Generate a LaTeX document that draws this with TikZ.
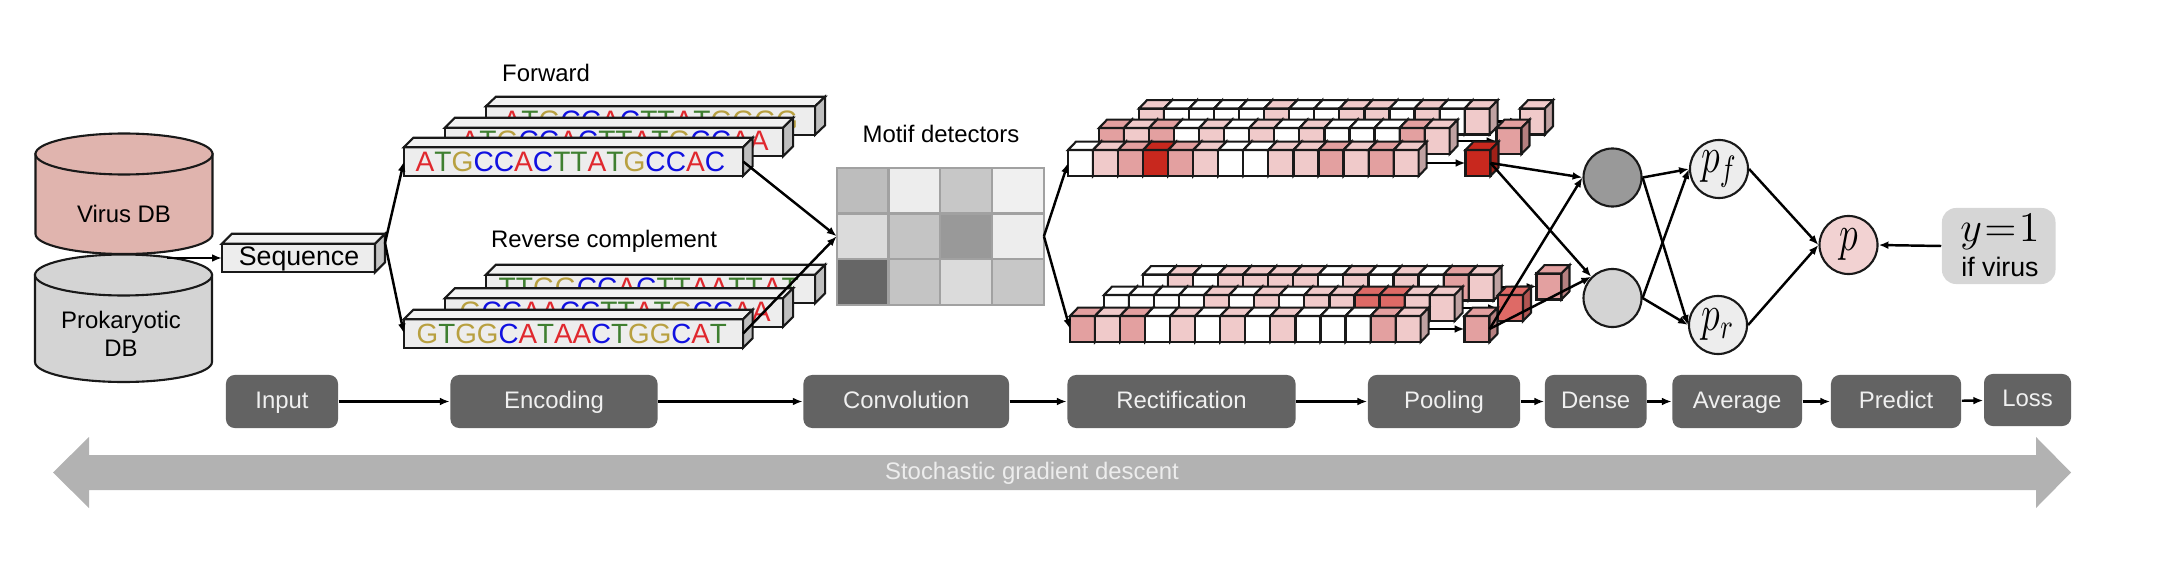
\documentclass[tikz,border=0pt]{standalone}
\usepackage[no-math]{fontspec}
\setmainfont{Liberation Sans}
\usetikzlibrary{calc, arrows.meta}
\definecolor{lev0}{HTML}{FFFFFF}
\definecolor{lev1}{HTML}{F0CACA}
\definecolor{lev2}{HTML}{E3A0A0}
\definecolor{lev3}{HTML}{DE6A66}
\definecolor{lev4}{HTML}{C8281E}
\definecolor{dbred}{HTML}{E0B4AE}
\definecolor{nucred}{HTML}{E0282E}
\definecolor{nucgreen}{HTML}{3F7F30}
\definecolor{nucgold}{HTML}{B8A040}
\definecolor{nucblue}{HTML}{1010E0}
\newcommand{\nA}{\textcolor{nucred}{A}}
\newcommand{\nT}{\textcolor{nucgreen}{T}}
\newcommand{\nG}{\textcolor{nucgold}{G}}
\newcommand{\nC}{\textcolor{nucblue}{C}}
\newcommand{\unitlabel}[1]{\scalebox{.75}[1]{$#1$}}
\tikzset{
  >={Latex[length=2.8pt,width=2.2pt]},
  boxline/.style={draw=black!90,line width=.6pt},
  conn/.style={->,black,line width=.7pt},
  seqrow/.style={boxline,fill=black!7,minimum width=3.39cm,minimum height=.285cm,inner sep=0pt,outer sep=0pt},
  nuctext/.style={anchor=base west,inner sep=0pt,font=\fontsize{8}{9}\selectfont},
  cube/.style={boxline,minimum width=.25cm,minimum height=.26cm,inner sep=0pt,outer sep=0pt},
  caption/.style={inner sep=0pt,font=\fontsize{6.8}{7.8}\selectfont,align=center},
  stage/.style={fill=black!61,text=black!6,rounded corners=2.5pt,minimum height=.53cm,inner sep=0pt,text height=1.8mm,text depth=.5mm,font=\fontsize{6.8}{7.8}\selectfont},
  motif/.style={draw=black!37,line width=.6pt,minimum width=.518cm,minimum height=.455cm,inner sep=0pt,outer sep=0pt},
  unit/.style={boxline,circle,minimum size=.58cm,inner sep=0pt,font=\Large},
}
% front faces are nodes, top and side faces hang on their corners
\newcommand{\boxfaces}[5]{
  \draw[boxline,fill=#4] (#1.north west) -- ++(#2,-#3) -- ($(#1.north east)+(#2,-#3)$) -- (#1.north east) -- cycle;
  \draw[boxline,fill=#5] (#1.north east) -- ++(#2,-#3) -- ($(#1.south east)+(#2,-#3)$) -- (#1.south east) -- cycle;
}
\newcommand{\cubestrip}[3]{
  \foreach \lev [count=\i from 0] in {#3} {
    \node[cube,fill=lev\lev] (#1\i) at ($(#2)+(\i*25.05,0)$) {};
    \boxfaces{#1\i}{8}{8.3}{lev\lev}{lev\lev!80!black}
  }
}
\newcommand{\dbstack}[5]{
  \draw[boxline,fill=#5] (#1,#2) -- (#1,#3) arc[start angle=180,end angle=0,x radius=#4,y radius=20] -- ++(0,#2-#3) -- cycle;
  \draw[boxline,fill=#5] ($(#1,#2)+(#4,0)$) ellipse [x radius=#4,y radius=20.5];
}
\begin{document}
\begin{tikzpicture}[x=0.01cm,y=-0.01cm]
    \useasboundingbox (0,0) rectangle (2158,564);
    % databases
    \dbstack{35.5}{154}{234}{88.5}{dbred}
    \node[caption] (virus) at (124,214) {Virus DB};
    \dbstack{35}{275}{362}{88.5}{black!17}
    \node[caption] (prok) at (121,334) {Prokaryotic\\DB};
    \coordinate (dbout) at (167,258);
    \node[seqrow,minimum width=1.53cm] (seq) at (298.5,258) {};
    \boxfaces{seq}{10}{10}{black!5}{black!23}
    \node[inner sep=0pt,font=\fontsize{7.6}{9}\selectfont] (seqtext) at (299,259) {Sequence};
    \coordinate (seqout) at (385,243);
    \draw[conn] (dbout) -- (seq.west);
    % forward strand
    \node[caption] (forward) at (546,73) {Forward};
    \node[seqrow,minimum width=3.29cm] (fwd1) at (650.5,120.5) {};
    \boxfaces{fwd1}{10}{9.5}{black!5}{black!25}
    \node[nuctext] (fwdtext1) at (502,130) {\nA\nT\nG\nC\nC\nA\nC\nT\nT\nA\nT\nG\nG\nG\nG};
    \node[seqrow,minimum width=3.38cm] (fwd2) at (614,142) {};
    \boxfaces{fwd2}{10}{10}{black!5}{black!25}
    \node[nuctext] (fwdtext2) at (460,150) {\nA\nT\nG\nC\nC\nA\nC\nT\nT\nA\nT\nG\nC\nC\nA\nA};
    \node[seqrow] (fwd3) at (573.5,161.5) {};
    \boxfaces{fwd3}{9.5}{9.5}{black!5}{black!25}
    \node[nuctext] (fwdtext3) at (415,171.5) {\nA\nT\nG\nC\nC\nA\nC\nT\nT\nA\nT\nG\nC\nC\nA\nC};
    % reverse strand
    \node[caption] (reverse) at (604,241) {Reverse complement};
    \node[seqrow,minimum width=3.29cm] (rev1) at (650.5,289) {};
    \boxfaces{rev1}{10}{10}{black!5}{black!25}
    \node[nuctext] (revtext1) at (498,297) {\nT\nT\nG\nG\nC\nC\nA\nC\nT\nT\nA\nA\nT\nT\nA\nT};
    \node[seqrow,minimum width=3.38cm] (rev2) at (614,312.5) {};
    \boxfaces{rev2}{10}{10}{black!5}{black!25}
    \node[nuctext] (revtext2) at (459,321) {\nG\nC\nC\nA\nA\nC\nC\nT\nT\nA\nT\nG\nC\nC\nA\nA};
    \node[seqrow] (rev3) at (573.5,333.5) {};
    \boxfaces{rev3}{9.5}{9.5}{black!5}{black!25}
    \node[nuctext,font=\fontsize{7.9}{9}\selectfont] (revtext3) at (416,343) {\nG\nT\nG\nG\nC\nA\nT\nA\nA\nC\nT\nG\nG\nC\nA\nT};
    \draw[conn] (seqout) -- (fwd3.west);
    \draw[conn] (seqout) -- (rev3.west);
    % motif grid
    \node[caption] (motiflabel) at (941,134) {Motif detectors};
    \foreach \r/\list in {0/{26,7,22,6},1/{14,23,40,7},2/{60,23,14,22}} {
      \foreach \sh [count=\c from 0] in \list {
        \node[motif,fill=black!\sh] (motif\r\c) at (862.6+\c*51.8,190.8+\r*45.5) {};
      }
    }
    \draw[conn] (fwd3.east) -- (motif10.west);
    \draw[conn] (rev3.east) -- (motif10.west);
    % forward maps and their pooled cubes
    \cubestrip{fa}{1151.5,121.5}{1,0,0,0,0,1,0,0,1,1,0,1,0,1}
    \cubestrip{pa}{1532.5,121.5}{1}
    \draw[conn] ($(fa13.east)+(8,0)$) -- (pa0.west);
    \cubestrip{fb}{1111.5,141}{2,1,2,0,1,0,1,0,1,0,0,0,2,1}
    \cubestrip{pb}{1509,141}{2}
    \draw[conn] ($(fb13.east)+(8,0)$) -- (pb0.west);
    \cubestrip{fc}{1080.5,163}{0,1,2,4,2,1,0,0,1,1,2,1,2,1}
    \cubestrip{pc}{1478,163}{4}
    \draw[conn] ($(fc13.east)+(8,0)$) -- (pc0.west);
    % reverse maps and their pooled cubes
    \cubestrip{ra}{1155.5,287.5}{0,1,0,1,1,1,1,0,1,0,1,0,2,1}
    \cubestrip{qa}{1549,286.5}{2}
    \draw[conn] ($(ra13.east)+(8,0)$) -- (qa0.west);
    \cubestrip{rb}{1116.5,308}{0,0,0,0,1,0,1,0,1,1,3,3,1,1}
    \cubestrip{qb}{1510.5,308}{3}
    \draw[conn] ($(rb13.east)+(8,0)$) -- (qb0.west);
    \cubestrip{rc}{1082.5,329}{2,1,2,0,1,0,1,0,1,0,0,0,2,1}
    \cubestrip{qc}{1477,329}{2}
    \draw[conn] ($(rc13.east)+(8,0)$) -- (qc0.west);
    \draw[conn] (motif13.east) -- (fc0.west);
    \draw[conn] (motif13.east) -- (rc0.west);
    % dense units
    \node[unit,fill=black!40] (densef) at (1612.5,177.5) {};
    \node[unit,fill=black!17] (denser) at (1612.5,298) {};
    \node[unit,fill=black!7] (pf) at (1719,169) {\unitlabel{p_f}};
    \node[unit,fill=black!7] (pr) at (1718,325) {\unitlabel{p_r}};
    \node[unit,fill=lev1!85!white] (pavg) at (1848.5,245) {\unitlabel{p}};
    \node[fill=black!16,rounded corners=4pt,minimum width=1.135cm,minimum height=.76cm,inner sep=0pt] (target) at (1998.7,246) {};
    \node[inner sep=0pt,font=\large] (targety) at (2000,232) {$y\mkern1mu{=}\mkern1mu1$};
    \node[inner sep=0pt,font=\fontsize{7.6}{9}\selectfont] (targettext) at (2000,267) {if virus};
    \draw[conn] (pc0.east) -- (densef.west);
    \draw[conn] (pc0.east) -- (denser.135);
    \draw[conn] (qc0.east) -- (densef.west);
    \draw[conn] (qc0.east) -- (denser.135);
    \draw[conn] (densef.east) -- (pf.west);
    \draw[conn] (densef.east) -- (pr.west);
    \draw[conn] (denser.east) -- (pf.west);
    \draw[conn] (denser.east) -- (pr.west);
    \draw[conn] (pf.east) -- (pavg.west);
    \draw[conn] (pr.east) -- (pavg.west);
    \draw[conn] (target.west) -- (pavg.east);
    % stages
    \node[stage,minimum width=1.12cm] (input) at (282,401.5) {Input};
    \node[stage,minimum width=2.07cm] (encoding) at (554,401.5) {Encoding};
    \node[stage,minimum width=2.055cm] (convolution) at (906.2,401.5) {Convolution};
    \node[stage,minimum width=2.28cm] (rectification) at (1181.5,401.5) {Rectification};
    \node[stage,minimum width=1.52cm] (pooling) at (1444,401.5) {Pooling};
    \node[stage,minimum width=1.015cm] (dense) at (1595.7,401.5) {Dense};
    \node[stage,minimum width=1.295cm] (average) at (1737.2,401.5) {Average};
    \node[stage,minimum width=1.3cm] (predict) at (1896,401.5) {Predict};
    \node[stage,minimum width=.87cm,minimum height=.52cm] (loss) at (2027.5,400) {Loss};
    \draw[conn] (input) -- (encoding);
    \draw[conn] (encoding) -- (convolution);
    \draw[conn] (convolution) -- (rectification);
    \draw[conn] (rectification) -- (pooling);
    \draw[conn] (pooling) -- (dense);
    \draw[conn] (dense) -- (average);
    \draw[conn] (average) -- (predict);
    \draw[conn] (predict) -- (loss);
    % long arrow
    \fill[black!30] (53,472.5) -- (89,437) -- (89,455) -- (2036,455) -- (2036,437) -- (2071,472.5) -- (2036,508) -- (2036,490) -- (89,490) -- (89,508) -- cycle;
    \node[caption,text=black!7] (sgd) at (1032,473) {Stochastic gradient descent};
\end{tikzpicture}
\end{document}
